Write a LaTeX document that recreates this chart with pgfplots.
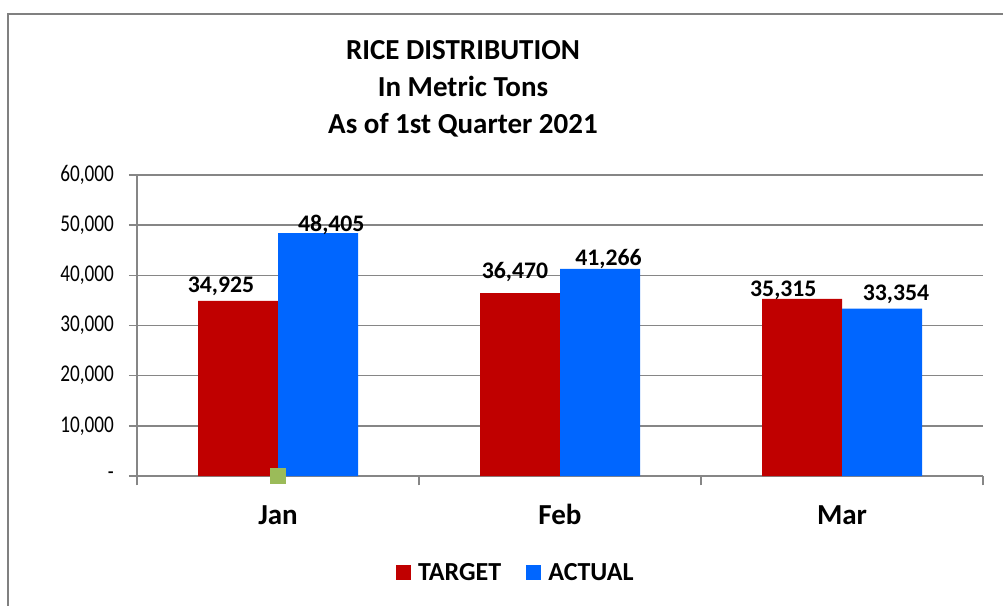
\documentclass[border=0pt]{standalone}
\usepackage{pgfplots}
\pgfplotsset{compat=1.18}
\usepackage{pgfplotstable}
\usepackage{fontspec}
\setmainfont{Carlito}
\definecolor{tgt}{RGB}{192,0,0}
\definecolor{act}{RGB}{0,102,255}
\definecolor{gridc}{RGB}{134,134,134}
\definecolor{framec}{RGB}{128,128,128}
\definecolor{handle}{RGB}{155,187,89}
\pgfplotstableread{
x y dx dy
0 34925 -12.75 6
1 36470 -3.75 11.25
2 35315 -14 1.5
}\target
\pgfplotstableread{
x y dx dy
0 48405 10 1.5
1 41266 6.4 2.25
2 33354 10.5 6
}\actual
\pgfplotstableread{
x y dx dy
0 0 0 0
}\handlept
\begin{document}
\begin{tikzpicture}
\useasboundingbox (0,0) rectangle (752.25pt,-454.5pt);
\draw[framec, line width=1.5pt] (6pt,-470pt) -- (6pt,-10.5pt) -- (770pt,-10.5pt);
\node[align=center, font=\fontsize{21.75pt}{27.75pt}\selectfont\bfseries, anchor=center] at (347.25pt,-66.75pt) {RICE DISTRIBUTION\\In Metric Tons\\As of 1st Quarter 2021};
\begin{axis}[
  at={(102.75pt,-357pt)}, anchor=south west,
  scale only axis, width=634.5pt, height=225.75pt,
  xmin=-0.5, xmax=2.5, ymin=0, ymax=60000,
  ybar=0pt, bar width=60pt,
  clip=false,
  scaled y ticks=false,
  axis x line*=bottom, axis y line*=left,
  axis line style={gridc, line width=1.1pt},
  tick style={gridc, line width=1.1pt},
  tick align=outside,
  ytick={0,10000,20000,30000,40000,50000,60000},
  yticklabels={{-\hspace{17pt}},{10,000},{20,000},{30,000},{40,000},{50,000},{60,000}},
  yticklabel style={font=\fontsize{18pt}{21pt}\selectfont, anchor=east, inner sep=0pt, xshift=-11.25pt, xscale=0.8},
  ymajorgrids, grid style={gridc, line width=1.1pt},
  major tick length=6pt,
  xtick={0,1,2}, xticklabels={Jan,Feb,Mar},
  x tick style={draw=none},
  xticklabel style={font=\fontsize{21.75pt}{26pt}\selectfont\bfseries, anchor=base, inner sep=0pt, yshift=-30pt},
  extra x ticks={-0.5,0.5,1.5,2.5}, extra x tick labels={},
  extra x tick style={grid=none, x tick style={draw=gridc}, major tick length=7pt},
  nodes near coords,
  visualization depends on={\thisrow{dx}\as\dx},
  visualization depends on={\thisrow{dy}\as\dy},
  nodes near coords style={font=\fontsize{17.8pt}{20pt}\selectfont\bfseries, anchor=base, inner sep=0pt, xshift=\dx pt, yshift=\dy pt, /pgf/number format/1000 sep={,}, /pgf/number format/fixed, /pgf/number format/assume math mode=true},
  legend style={at={(0.306,-0.322)}, anchor=west, draw=none, fill=none, legend columns=2, inner sep=0pt,
    font=\fontsize{19.5pt}{22pt}\selectfont\bfseries,
    nodes={inner sep=0pt},
    /tikz/every odd column/.style={column sep=5.25pt},
    /tikz/every even column/.style={column sep=18.75pt}},
  legend image code/.code={\fill[#1] (0pt,-5.625pt) rectangle (11.25pt,5.625pt);},
]
\addplot[fill=tgt, draw=none] table[x=x, y=y] {\target};
\addlegendentry{TARGET}
\addplot[fill=act, draw=none] table[x=x, y=y] {\actual};
\addlegendentry{ACTUAL}
\addplot[sharp plot, only marks, bar shift=0pt, forget plot, nodes near coords={}, mark=square*, mark size=5.6pt, mark options={fill=handle, draw=handle, line width=0pt}] table[x=x, y=y] {\handlept};
\end{axis}
\end{tikzpicture}
\end{document}
